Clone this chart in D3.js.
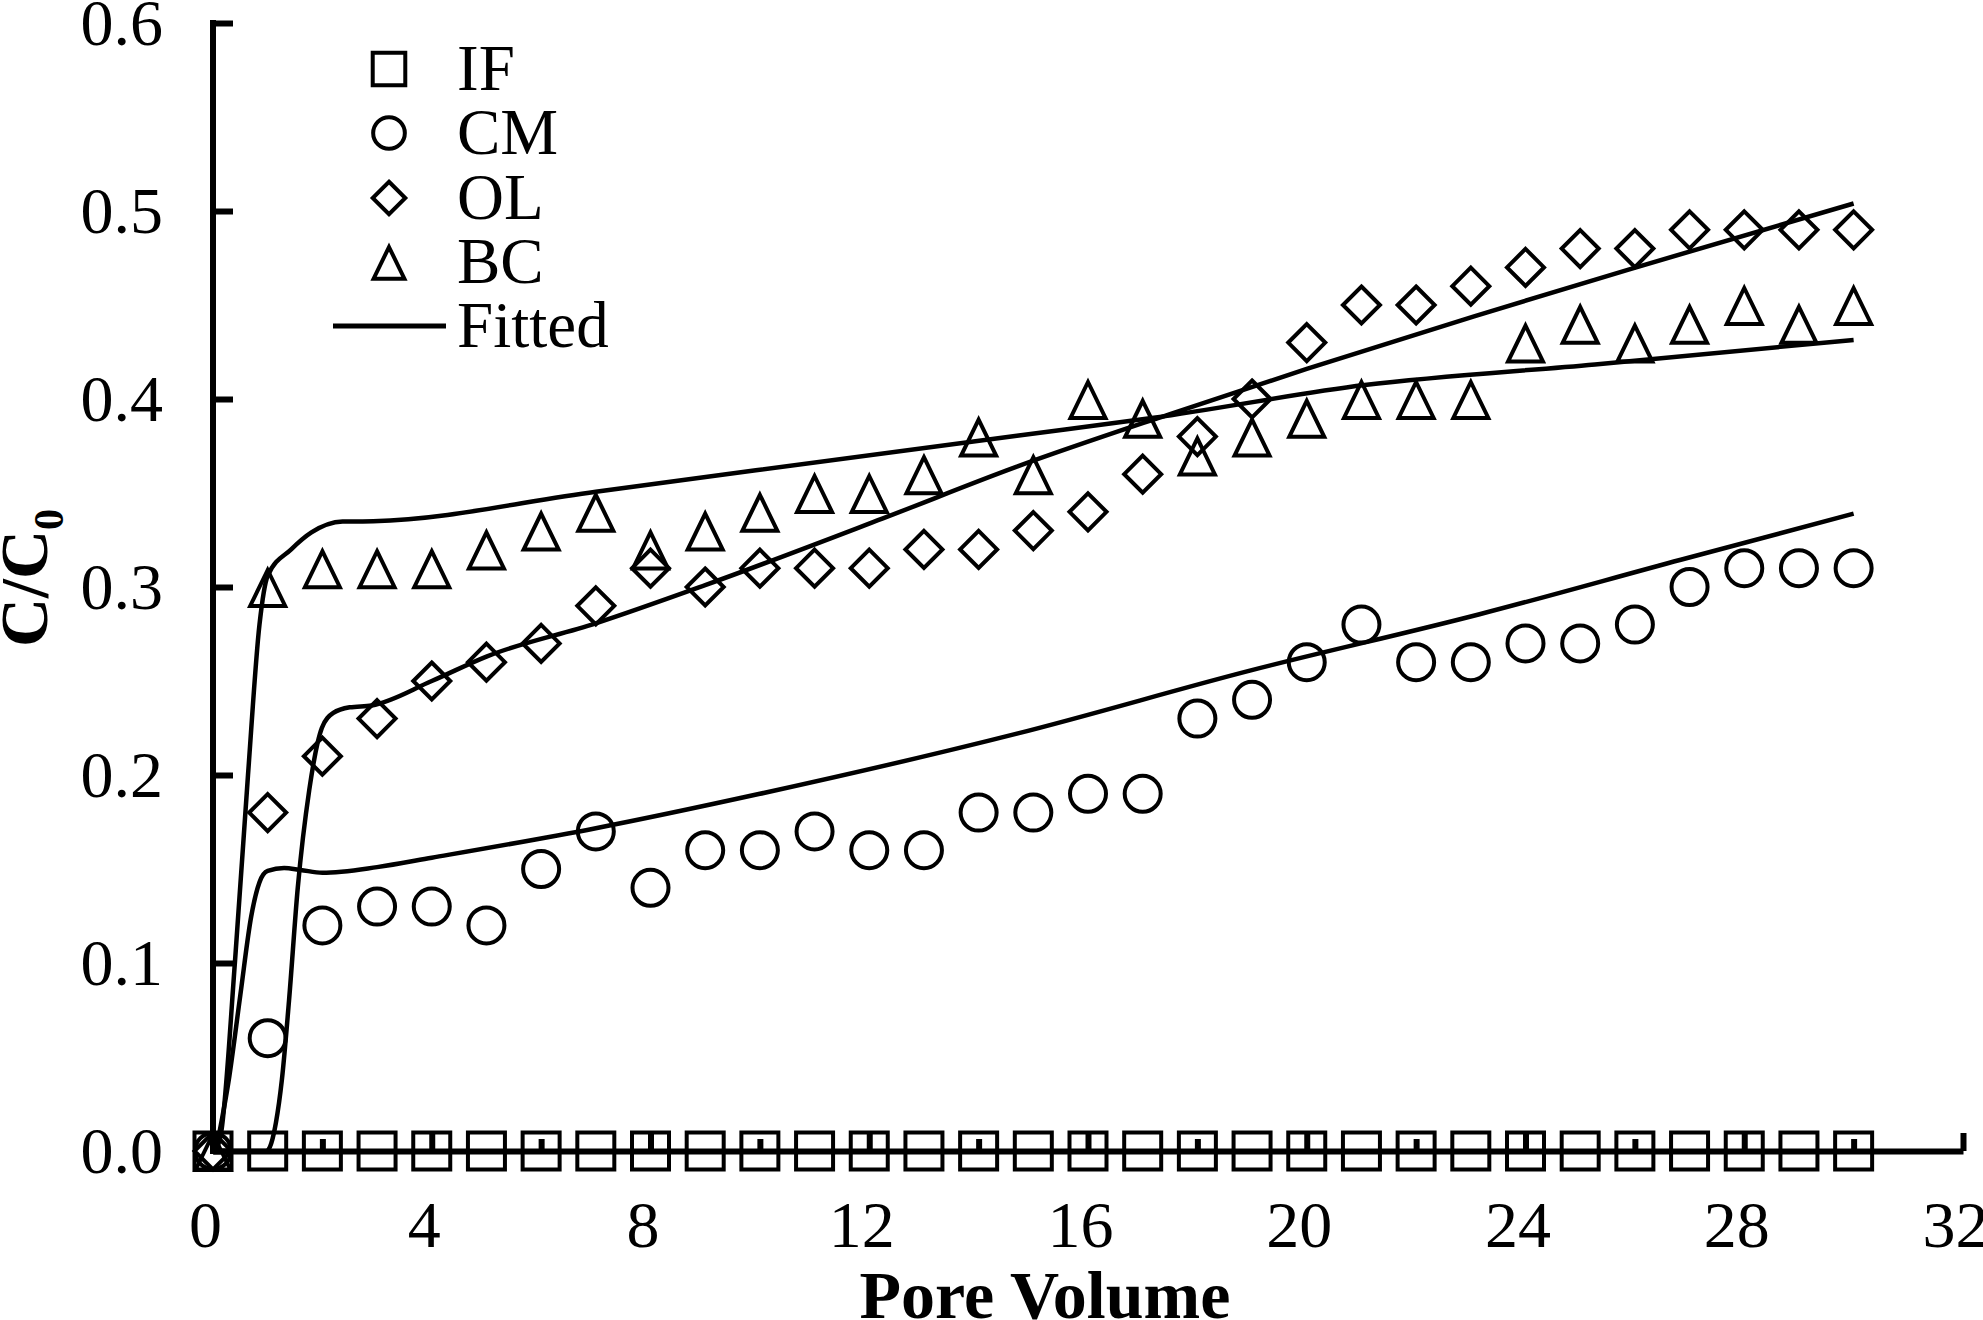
<!DOCTYPE html>
<html>
<head>
<meta charset="utf-8">
<script src="https://cdn.jsdelivr.net/npm/d3@7/dist/d3.min.js"></script>
<style>
  html, body { margin: 0; padding: 0; background: #fff; }
  svg { display: block; }
</style>
</head>
<body>
<svg id="chart" width="1983" height="1320"></svg>
<script>
// ---------------- DATA ----------------
const poreVolume = d3.range(0, 31); // 0..30
const IF = [0,0,0,0,0,0,0,0,0,0,0,0,0,0,0,0,0,0,0,0,0,0,0,0,0,0,0,0,0,0,0];
const CM = [0,0.06,0.12,0.13,0.13,0.12,0.15,0.17,0.14,0.16,0.16,0.17,0.16,0.16,0.18,0.18,0.19,0.19,0.23,0.24,0.26,0.28,0.26,0.26,0.27,0.27,0.28,0.30,0.31,0.31,0.31];
const OL = [0,0.18,0.21,0.23,0.25,0.26,0.27,0.29,0.31,0.30,0.31,0.31,0.31,0.32,0.32,0.33,0.34,0.36,0.38,0.40,0.43,0.45,0.45,0.46,0.47,0.48,0.48,0.49,0.49,0.49,0.49];
const BC = [0,0.30,0.31,0.31,0.31,0.32,0.33,0.34,0.32,0.33,0.34,0.35,0.35,0.36,0.38,0.36,0.40,0.39,0.37,0.38,0.39,0.40,0.40,0.40,0.43,0.44,0.43,0.44,0.45,0.44,0.45];

// fitted curves: [pore volume, C/C0]
const fitCM = [[0.05,0],[0.3,0.04],[0.5,0.083],[0.7,0.125],[0.85,0.143],[1.0,0.149],[1.3,0.1505],[1.6,0.1495],[2.0,0.148],[3,0.151],[4,0.156],[7,0.1717],[10,0.19],[14.7,0.222],[18.96,0.2555],[23.16,0.2855],[26.84,0.3145],[30,0.339]];
const fitOL = [[0.05,0],[0.98,0],[1.15,0.015],[1.26,0.038],[1.39,0.08],[1.55,0.14],[1.76,0.192],[1.99,0.225],[2.2,0.233],[2.5,0.236],[2.9,0.237],[4,0.25],[5,0.263],[7,0.2807],[9,0.301],[12.25,0.3365],[14.7,0.364],[17.5,0.392],[20,0.416],[23.06,0.444],[25.9,0.469],[30,0.504]];
const fitBC = [[0.05,0],[0.15,0.01],[0.4,0.1],[0.64,0.2],[0.85,0.28],[1.0,0.306],[1.43,0.32],[1.8,0.329],[2.37,0.3348],[2.93,0.335],[7.0,0.3507],[14.7,0.3805],[17.2,0.390],[21.06,0.4074],[25.27,0.4184],[30,0.4314]];

const xMajorTicks = [0,4,8,12,16,20,24,28,32];
const xMinorTicks = [2,6,10,14,18,22,26,30];
const yTicks = [0,0.1,0.2,0.3,0.4,0.5,0.6];
const legendNames = ["IF","CM","OL","BC","Fitted"];

// ---------------- CHART ----------------
const svg = d3.select("#chart");
const FONT = "'Liberation Serif','Times New Roman',serif";

const x = d3.scaleLinear().domain([0, 32]).range([213, 1963]);
const y = d3.scaleLinear().domain([0, 0.6]).range([1151, 23]);

// symbols
const shapes = {
  square: s => { const h = 18.5*s; return `M${-h},${-h}H${h}V${h}H${-h}Z`; },
  circle: s => { const r = 18*s; return `M${r},0A${r},${r} 0 1,1 ${-r},0A${r},${r} 0 1,1 ${r},0Z`; },
  diamond: s => { const h = 18.5*s; return `M0,${-h}L${h},0L0,${h}L${-h},0Z`; },
  triangle: s => `M0,${-17*s}L${17.5*s},${19*s}L${-17.5*s},${19*s}Z`
};

const series = [
  {name:"IF", values: IF, shape:"square"},
  {name:"CM", values: CM, shape:"circle"},
  {name:"OL", values: OL, shape:"diamond"},
  {name:"BC", values: BC, shape:"triangle"}
];

// fitted lines
const line = d3.line().x(d => x(d[0])).y(d => y(d[1])).curve(d3.curveMonotoneX);
svg.append("g").selectAll("path")
  .data([fitCM, fitOL, fitBC])
  .join("path")
  .attr("d", line)
  .attr("fill", "none")
  .attr("stroke", "#000")
  .attr("stroke-width", 4.5)
  .attr("stroke-linejoin", "round");

// markers
series.forEach(s => {
  svg.append("g").selectAll("path")
    .data(poreVolume.map((pv, i) => [pv, s.values[i]]))
    .join("path")
    .attr("transform", d => `translate(${x(d[0])},${y(d[1])})`)
    .attr("d", shapes[s.shape](1))
    .attr("fill", "none")
    .attr("stroke", "#000")
    .attr("stroke-width", 4)
    .attr("stroke-linejoin", "miter");
});

// axes
function styleAxis(g) {
  g.attr("font-family", FONT).attr("font-size", 66);
  g.selectAll("line").attr("stroke", "#000").attr("stroke-width", 6);
  g.select(".domain").attr("stroke", "#000").attr("stroke-width", 6);
  g.selectAll("text").attr("fill", "#000");
}

const xAxisMinor = svg.append("g")
  .attr("transform", `translate(0,${y(0)})`)
  .call(d3.axisBottom(x).tickValues(xMinorTicks).tickSize(-12).tickSizeOuter(0).tickFormat(""));
styleAxis(xAxisMinor);
xAxisMinor.select(".domain").remove();

const xAxis = svg.append("g")
  .attr("transform", `translate(0,${y(0)})`)
  .call(d3.axisBottom(x).tickValues(xMajorTicks).tickSize(-18).tickSizeOuter(0).tickFormat(d3.format("d")));
styleAxis(xAxis);
xAxis.selectAll("text").attr("y", 96).attr("dy", 0).attr("dx", -8);

const yAxis = svg.append("g")
  .attr("transform", `translate(${x(0)},0)`)
  .call(d3.axisLeft(y).tickValues(yTicks).tickSize(-20).tickSizeOuter(0).tickPadding(50).tickFormat(d3.format(".1f")));
styleAxis(yAxis);
yAxis.select(".domain").attr("d", `M0,${y(0)+3}V${y(0.6)-3}`);

// axis titles
svg.append("text")
  .attr("x", 1045).attr("y", 1318)
  .attr("text-anchor", "middle")
  .attr("font-family", FONT).attr("font-weight", "bold").attr("font-size", 68)
  .text("Pore Volume");

const yl = svg.append("text")
  .attr("transform", "translate(47,578) rotate(-90)")
  .attr("text-anchor", "middle")
  .attr("font-family", FONT).attr("font-weight", "bold").attr("font-size", 68);
yl.append("tspan").text("C/C");
yl.append("tspan").attr("font-size", 42).attr("dy", 16).text("0");

// legend
const legendY = [69, 133, 198, 262, 326];
const legend = svg.append("g");
legendNames.forEach((name, i) => {
  if (i < 4) {
    legend.append("path")
      .attr("transform", `translate(389,${legendY[i]})`)
      .attr("d", shapes[series[i].shape](0.88))
      .attr("fill", "none").attr("stroke", "#000").attr("stroke-width", 4);
  } else {
    legend.append("line")
      .attr("x1", 333).attr("x2", 446)
      .attr("y1", legendY[i]).attr("y2", legendY[i])
      .attr("stroke", "#000").attr("stroke-width", 5);
  }
  legend.append("text")
    .attr("x", 457).attr("y", legendY[i] + 21)
    .attr("font-family", FONT).attr("font-size", 65)
    .text(name);
});
</script>
</body>
</html>
